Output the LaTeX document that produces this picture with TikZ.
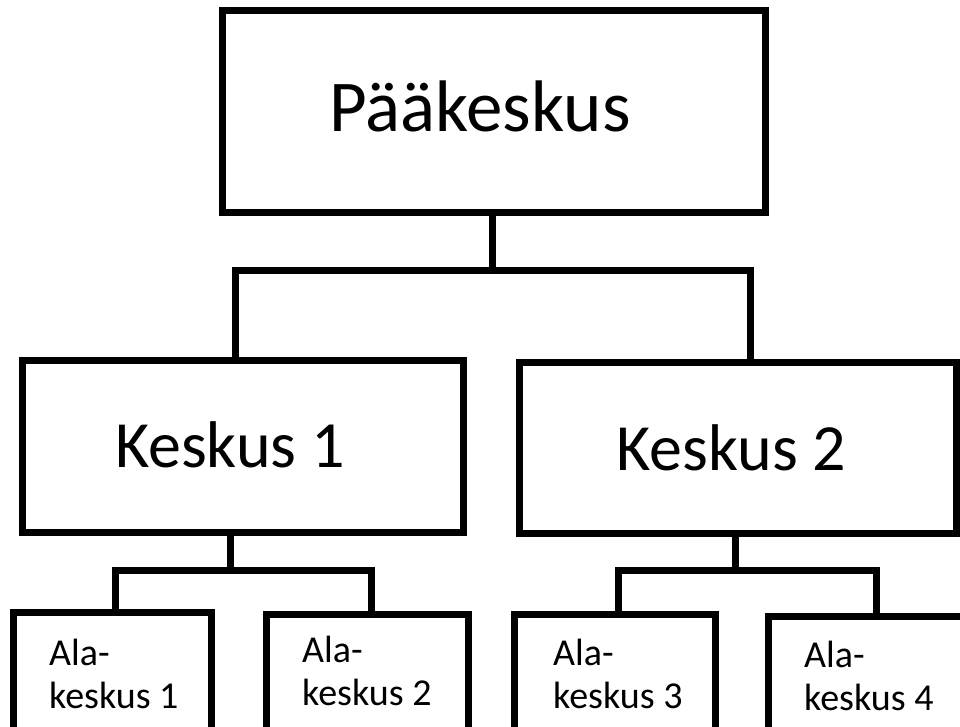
\documentclass[tikz,border=0pt]{standalone}
\usepackage{fontspec}
\setmainfont{Carlito}
\begin{document}
\begin{tikzpicture}[x=1pt,y=-1pt,
  box/.style={draw=black,line width=7pt,rectangle,inner sep=0pt,fill=white},
  conn/.style={draw=black,line width=7pt,line join=miter},
  big/.style={inner sep=0pt,anchor=base,font=\fontsize{73}{80}\selectfont},
  mid/.style={inner sep=0pt,anchor=base,font=\fontsize{66}{72}\selectfont},
  small/.style={inner sep=0pt,anchor=base west,align=left,font=\fontsize{38}{43}\selectfont}]
  \useasboundingbox (0,0) rectangle (960,726);
  \clip (0,0) rectangle (960,726);
  \fill[white] (0,0) rectangle (960,726);

  % boxes
  \node[box,minimum width=543pt,minimum height=202pt] (top) at (493.5,111) {};
  \node[box,minimum width=441pt,minimum height=172pt] (k1) at (242.5,446) {};
  \node[box,minimum width=437pt,minimum height=171pt] (k2) at (737.5,447.5) {};
  \node[box,minimum width=198pt,minimum height=160pt] (a1) at (112,692) {};
  \node[box,minimum width=202pt,minimum height=160pt] (a2) at (367,694) {};
  \node[box,minimum width=201pt,minimum height=160pt] (a3) at (614.5,694) {};
  \node[box,minimum width=200pt,minimum height=160pt] (a4) at (868,696) {};

  % junction points of the connectors
  \coordinate (j0) at (492,270);
  \coordinate (j0l) at (235,270);
  \coordinate (j0r) at (750,270);
  \coordinate (j1) at (230,570);
  \coordinate (j1l) at (115,570);
  \coordinate (j1r) at (371,570);
  \coordinate (j2) at (735,570);
  \coordinate (j2l) at (618,570);
  \coordinate (j2r) at (876,570);

  % connectors
  \draw[conn] (top.south -| j0) -- (j0);
  \draw[conn] (k1.north -| j0l) -- (j0l) -- (j0r) -- (k2.north -| j0r);
  \draw[conn] (k1.south -| j1) -- (j1);
  \draw[conn] (a1.north -| j1l) -- (j1l) -- (j1r) -- (a2.north -| j1r);
  \draw[conn] (k2.south -| j2) -- (j2);
  \draw[conn] (a3.north -| j2l) -- (j2l) -- (j2r) -- (a4.north -| j2r);

  % labels (base of a two-line label is its second line)
  \node[big] (tTop) at (480,131) {Pääkeskus};
  \node[mid] (tK1) at (230,467) {Keskus 1};
  \node[mid] (tK2) at (731.5,470) {Keskus 2};
  \node[small] (tA1) at (49,708) {Ala-\\keskus 1};
  \node[small] (tA2) at (302,705) {Ala-\\keskus 2};
  \node[small] (tA3) at (553,708) {Ala-\\keskus 3};
  \node[small] (tA4) at (804,710) {Ala-\\keskus 4};
\end{tikzpicture}
\end{document}
